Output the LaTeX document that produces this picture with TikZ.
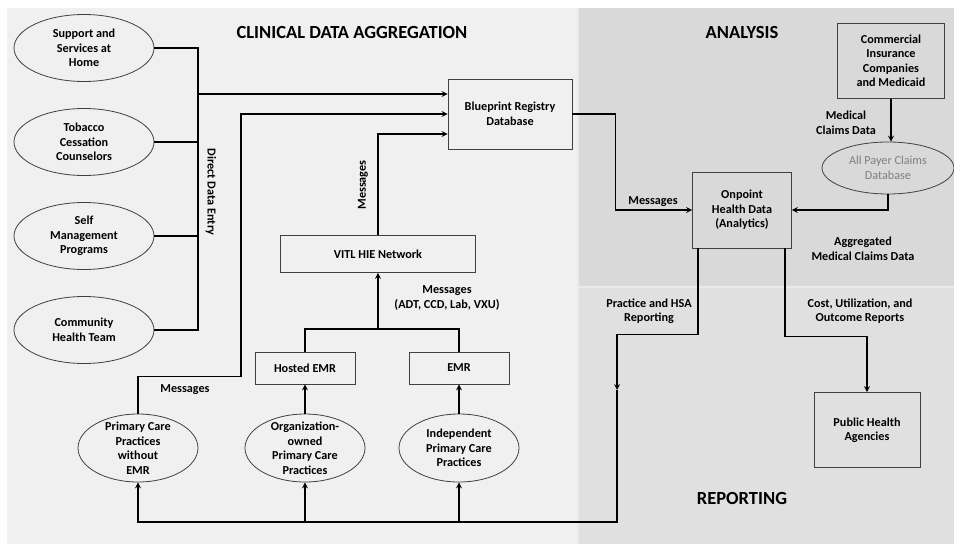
\documentclass[tikz,border=0pt]{standalone}
\usepackage{fontspec}
\setmainfont{Carlito}
\usepackage{tikz}
\usetikzlibrary{shapes, shapes.geometric, arrows}
\definecolor{clinicalbg}{HTML}{F0F0F0}
\definecolor{analysisbg}{HTML}{D9D9D9}
\definecolor{reportbg}{HTML}{E0E0E0}
\definecolor{edgegray}{HTML}{404040}
\definecolor{sepline}{HTML}{E6EBF0}
\definecolor{apcdtext}{HTML}{7F7F7F}
\newcommand{\labelfont}{\fontsize{12.2pt}{14.5pt}\selectfont\bfseries}
\newcommand{\titlefont}{\fontsize{18.5pt}{22pt}\selectfont\bfseries}
\tikzstyle{arrow} = [line width=1.6pt,->,>=stealth]
\tikzstyle{line} = [line width=1.6pt]
\tikzstyle{source} = [ellipse, minimum width=140pt, minimum height=67pt, inner xsep=0pt, inner ysep=-6pt, text centered, align=center, draw=edgegray, line width=0.8pt, font=\labelfont]
\tikzstyle{practice} = [source, minimum width=120pt, minimum height=68pt]
\tikzstyle{system} = [rectangle, minimum width=100pt, minimum height=32pt, text centered, align=center, draw=edgegray, line width=0.8pt, font=\labelfont]
\tikzstyle{flow} = [align=center, font=\labelfont]
\tikzstyle{region} = [font=\titlefont]

\begin{document}
\begin{tikzpicture}[x=1pt, y=-1pt, node distance = 94pt]
				\useasboundingbox (0,0) rectangle (954,544);
				%backgrounds
				\fill[white] (0,0) rectangle (954,544);
				\fill[clinicalbg] (7,8) rectangle (578,544);
				\fill[analysisbg] (578,8) rectangle (954,287);
				\fill[reportbg] (578,287) rectangle (954,544);
				\draw[sepline, line width=1.2pt] (578,8) -- (578,544);
				\draw[sepline, line width=1.2pt] (578,287) -- (954,287);
				
				\node(clinical)[region] at (352,32) {CLINICAL DATA AGGREGATION};
				\node(analysis)[region] at (742,32) {ANALYSIS};
				\node(reporting)[region] at (742,498) {REPORTING};
				
				%\node(label)[type]{name}
				\node(support)[source] at (84,48) {Support and\\Services at\\Home};
				\node(tobacco)[source, below of = support]{Tobacco\\Cessation\\Counselors};
				\node(selfmgmt)[source, below of = tobacco]{Self\\Management\\Programs};
				\node(community)[source, below of = selfmgmt]{Community\\Health Team};
				
				\node(pcp)[practice, below of = community, xshift = 54pt, yshift = -24pt]{Primary Care\\Practices\\without\\EMR};
				\node(orgowned)[practice, right of = pcp, xshift = 73pt]{Organization-\\owned\\Primary Care\\Practices};
				\node(indep)[practice, right of = orgowned, xshift = 60pt]{Independent\\Primary Care\\Practices};
				
				\node(hosted)[system, above of = orgowned, yshift = -14pt]{Hosted EMR};
				\node(emr)[system, right of = hosted, xshift = 60pt]{EMR};
				\node(vitl)[system, above of = hosted, xshift = 73pt, yshift = 20pt, minimum width = 195pt, minimum height = 37pt]{VITL HIE Network};
				\node(blueprint)[system, above of = vitl, xshift = 132pt, yshift = 46pt, minimum width = 124pt, minimum height = 70pt]{Blueprint Registry\\Database};
				
				\node(onpoint)[system, right of = blueprint, xshift = 138pt, yshift = -96pt, minimum width = 99pt, minimum height = 76pt]{Onpoint\\Health Data\\(Analytics)};
				\node(apcd)[source, right of = onpoint, xshift = 52pt, yshift = 42pt, minimum width = 132pt, minimum height = 52pt, text = apcdtext, font = \labelfont\mdseries]{All Payer Claims\\Database};
				\node(commercial)[system, above of = apcd, xshift = 3pt, yshift = 13pt, minimum width = 107pt, minimum height = 75pt]{Commercial\\Insurance\\Companies\\and Medicaid};
				\node(public)[system, below of = onpoint, xshift = 125pt, yshift = -126pt, minimum width = 106pt, minimum height = 75pt]{Public Health\\Agencies};
				
				%labels
				\node(dde)[flow, rotate = -90] at (211,192) {Direct Data Entry};
				\node(msgpcp)[flow] at (185,390) {Messages};
				\node(msgvitl)[flow, rotate = 90] at (363,185) {Messages};
				\node(msghl7)[flow] at (447,298) {Messages\\(ADT, CCD, Lab, VXU)};
				\node(msgonpoint)[flow] at (653,202) {Messages};
				\node(claims)[flow] at (846,123) {Medical\\Claims Data};
				\node(aggregated)[flow] at (863,249) {Aggregated\\Medical Claims Data};
				\node(hsarep)[flow] at (649,311) {Practice and HSA\\Reporting};
				\node(costrep)[flow] at (860,311) {Cost, Utilization, and\\Outcome Reports};
				
				\coordinate(entry) at (198,94);
				\coordinate(join) at (378,329);
				\coordinate(hsa) at (617,390);
				\coordinate(bus) at (617,522);
				
				%arrows
					\draw [line] (support.east) -| (entry);
					\draw [line] (tobacco.east) -- (tobacco.east -| entry);
					\draw [line] (selfmgmt.east) -- (selfmgmt.east -| entry);
					\draw [line] (community.east) -| (entry);
					\draw [arrow] (entry) -- (entry -| blueprint.west);
					\draw [arrow] (pcp.north) -- ++(0,-37) -- ++(103,0) |- (blueprint.west);
					\draw [arrow] (vitl.north) |- ([yshift = -20pt]blueprint.west);
					\draw [line] (hosted.north) |- (join) -| (emr.north);
					\draw [arrow] (join) -- (vitl.south);
					\draw [arrow] (orgowned) -- (hosted);
					\draw [arrow] (indep) -- (emr);
					\draw [arrow] (blueprint.east) -- ++(43,0) |- (onpoint.west);
					\draw [arrow] (commercial.south) -- (commercial.south |- apcd.north);
					\draw [arrow] (apcd.south) |- (onpoint.east);
					\draw [arrow] ([xshift = 6pt]onpoint.south west) -- ++(0,86) -| (hsa);
					\draw [arrow] (hsa) -- (bus) -| (pcp.south);
					\draw [arrow] (orgowned.south |- bus) -- (orgowned.south);
					\draw [arrow] (indep.south |- bus) -- (indep.south);
					\draw [arrow] ([xshift = -7pt]onpoint.south east) -- ++(0,88) -| (public.north);
\end{tikzpicture}
\end{document}
